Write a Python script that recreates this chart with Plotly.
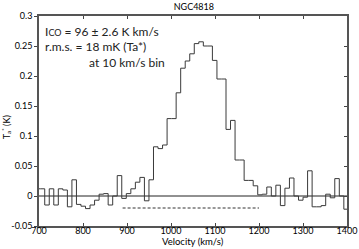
import plotly.graph_objects as go

# channel start velocities (km/s) (~10.3 km/s channels)
velocity = [692.4, 702.7, 713.0, 723.3, 733.6, 743.9, 754.2, 764.5, 774.8, 785.1,
            795.4, 805.7, 816.0, 826.3, 836.6, 846.9, 857.2, 867.5, 877.8, 888.1,
            898.4, 908.7, 919.0, 929.3, 939.6, 949.9, 960.2, 970.5, 980.8, 991.1,
            1001.4, 1011.7, 1022.0, 1032.3, 1042.6, 1052.9, 1063.2, 1073.5, 1083.8, 1094.1,
            1104.4, 1114.7, 1125.0, 1135.3, 1145.6, 1155.9, 1166.2, 1176.5, 1186.8, 1197.1,
            1207.4, 1217.7, 1228.0, 1238.3, 1248.6, 1258.9, 1269.2, 1279.5, 1289.8, 1300.1,
            1310.4, 1320.7, 1331.0, 1341.3, 1351.6, 1361.9, 1372.2, 1382.5, 1392.8, 1403.1]
# antenna temperature per channel (K)
ta = [0.012, 0.012, -0.015, 0.012, -0.015, 0.012, 0.010, -0.018, 0.027, -0.014,
      -0.017, -0.021, -0.015, -0.007, 0.003, 0.004, -0.015, 0.000, 0.034, -0.004,
      0.004, 0.012, 0.023, 0.031, -0.008, 0.027, 0.082, 0.079, 0.085, 0.129,
      0.129, 0.172, 0.213, 0.225, 0.237, 0.254, 0.257, 0.250, 0.250, 0.226,
      0.195, 0.195, 0.111, 0.126, 0.060, 0.060, 0.026, 0.026, 0.017, 0.002,
      0.003, 0.015, 0.000, 0.018, -0.016, 0.013, 0.030, 0.000, -0.007, -0.002,
      0.042, -0.018, -0.018, -0.016, 0.003, -0.003, 0.029, 0.000, -0.022, -0.022]

zero_x = [700, 1400]
zero_y = [0, 0]
range_x = [890, 1200]
range_y = [-0.02, -0.02]

x_ticks = [700, 800, 900, 1000, 1100, 1200, 1300, 1400]
y_ticks = [-0.05, 0, 0.05, 0.1, 0.15, 0.2, 0.25, 0.3]
y_labels = ["-0.05", "0", "0.05", "0.1", "0.15", "0.2", "0.25", "0.3"]

FONT = "Lato"

fig = go.Figure()
fig.add_trace(go.Scatter(x=zero_x, y=zero_y, mode="lines",
                         line=dict(color="#222222", width=1), hoverinfo="skip"))
fig.add_trace(go.Scatter(x=range_x, y=range_y, mode="lines",
                         line=dict(color="#333333", width=1, dash="3px,2px"), hoverinfo="skip"))
fig.add_trace(go.Scatter(x=velocity, y=ta, mode="lines", line_shape="hv",
                         line=dict(color="#3a3a3a", width=1), hoverinfo="skip"))
fig.add_trace(go.Scatter(x=[700], y=[0], yaxis="y2", mode="markers",
                         marker=dict(opacity=0), hoverinfo="skip"))

fig.update_layout(
    width=359, height=249,
    margin=dict(l=39, r=12, t=16, b=23),
    paper_bgcolor="white", plot_bgcolor="white",
    showlegend=False,
    font=dict(family=FONT, size=9, color="black"),
    title=dict(text="NGC4818", x=0.54, xanchor="center", y=0.985, yanchor="top",
               font=dict(family=FONT, size=9)),
    xaxis=dict(range=[700, 1400], tickvals=x_ticks, ticks="inside", ticklen=3,
               showline=True, linecolor="#555555", linewidth=1.5, mirror="ticks",
               showgrid=False, zeroline=False, automargin=False,
               ticklabelstandoff=-5, tickfont=dict(size=9)),
    yaxis=dict(range=[-0.05, 0.3], tickvals=y_ticks, ticktext=y_labels,
               ticks="outside", ticklen=3, showline=True, linecolor="#555555",
               linewidth=1.5, showgrid=False, zeroline=False, automargin=False,
               tickfont=dict(size=9)),
    yaxis2=dict(range=[-0.05, 0.3], overlaying="y", side="right", tickvals=y_ticks,
                ticks="inside", ticklen=3, showticklabels=False, showline=True,
                automargin=False,
                linecolor="#555555", linewidth=1.5, showgrid=False, zeroline=False),
)

# axis titles
fig.add_annotation(xref="paper", yref="paper", x=0.5, y=-0.072, xanchor="center",
                   yanchor="middle", text="Velocity (km/s)", showarrow=False,
                   font=dict(family=FONT, size=9.5))
fig.add_annotation(xref="paper", yref="paper", x=-0.107, y=0.47, xanchor="center",
                   yanchor="middle", text="T<sub>a</sub><sup>*</sup> (K)", textangle=-90,
                   showarrow=False, font=dict(family=FONT, size=9))

ann_font = dict(family=FONT, size=12, color="#222222")
fig.add_annotation(xref="x", yref="y", x=708, y=0.274, xanchor="left", yanchor="middle",
                   text="I<span style='font-size:9px'>CO</span> = 96 \u00b1 2.6 K km/s",
                   showarrow=False, font=ann_font)
fig.add_annotation(xref="x", yref="y", x=708, y=0.250, xanchor="left", yanchor="middle",
                   text="r.m.s. = 18 mK (Ta*)", showarrow=False, font=ann_font)
fig.add_annotation(xref="x", yref="y", x=808, y=0.223, xanchor="left", yanchor="middle",
                   text="at 10 km/s bin", showarrow=False, font=ann_font)

fig.write_html("out.html", config={"displayModeBar": False},
               post_script="document.body.style.margin='0';document.body.style.overflow='hidden';")
